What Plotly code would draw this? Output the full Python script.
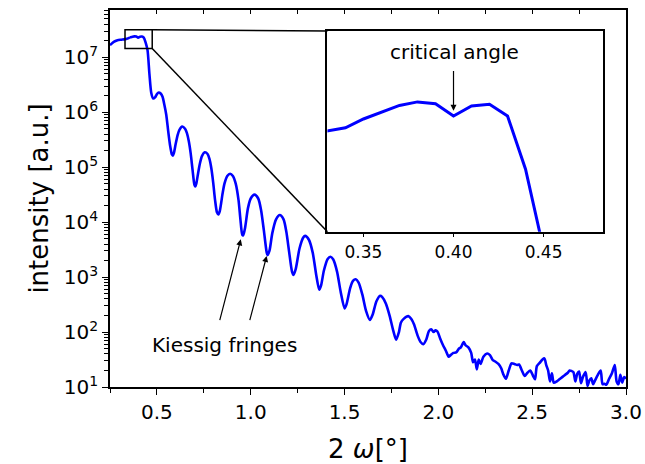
import numpy as np
import plotly.graph_objects as go

# 2-omega angle [deg]
angle = [
    0.25, 0.27, 0.29, 0.31, 0.33, 0.34, 0.35, 0.36, 0.37, 0.38, 0.39, 0.40, 0.41, 0.42, 0.43, 0.44, 0.45,
    0.46, 0.47, 0.48, 0.49, 0.50, 0.51, 0.52, 0.53, 0.54, 0.55, 0.56, 0.57, 0.58, 0.585, 0.59, 0.60,
    0.61, 0.62, 0.635, 0.65, 0.66, 0.67, 0.68, 0.69, 0.70, 0.705, 0.71, 0.72, 0.73, 0.74, 0.755, 0.77,
    0.78, 0.79, 0.80, 0.81, 0.82, 0.828, 0.835, 0.85, 0.86, 0.875, 0.89, 0.905, 0.92, 0.935, 0.945,
    0.955, 0.96, 0.97, 0.985, 1.00, 1.02, 1.04, 1.055, 1.07, 1.085, 1.09, 1.10, 1.115, 1.135, 1.155,
    1.175, 1.19, 1.205, 1.22, 1.228, 1.24, 1.26, 1.28, 1.29, 1.31, 1.33, 1.35, 1.365, 1.375, 1.39,
    1.41, 1.425, 1.44, 1.46, 1.48, 1.50, 1.51, 1.53, 1.545, 1.56, 1.575, 1.595, 1.615, 1.635, 1.65,
    1.67, 1.69, 1.70, 1.72, 1.74, 1.76, 1.775, 1.79, 1.80, 1.815, 1.84, 1.855, 1.87, 1.89, 1.905,
    1.92, 1.935, 1.95, 1.962, 1.975, 1.985, 1.995, 2.01, 2.025, 2.04, 2.055, 2.065, 2.08, 2.095,
    2.11, 2.12, 2.135, 2.145, 2.16, 2.175, 2.185, 2.195, 2.205, 2.215, 2.225, 2.24, 2.26, 2.275,
    2.29, 2.305, 2.32, 2.335, 2.345, 2.36, 2.375, 2.39, 2.405, 2.42, 2.43, 2.445, 2.46, 2.475,
    2.49, 2.505, 2.515, 2.525, 2.54, 2.555, 2.565, 2.575, 2.585, 2.595, 2.605, 2.615, 2.63, 2.645,
    2.66, 2.675, 2.69, 2.70, 2.71, 2.72, 2.73, 2.74, 2.75, 2.76, 2.77, 2.785, 2.795, 2.805, 2.815,
    2.825, 2.835, 2.85, 2.865, 2.875, 2.885, 2.895, 2.91, 2.925, 2.94, 2.95, 2.96, 2.97, 2.98,
    2.99, 3.00,
]

# log10 of intensity [a.u.]
log10_intensity = [
    7.22, 7.28, 7.31, 7.32, 7.33, 7.336, 7.351, 7.363, 7.374, 7.380, 7.377, 7.356, 7.373, 7.376, 7.356, 7.266, 7.13,
    6.70, 6.35, 6.25, 6.27, 6.33, 6.36, 6.34, 6.28, 6.13, 5.95, 5.66, 5.40, 5.23, 5.21, 5.25, 5.42,
    5.58, 5.68, 5.74, 5.70, 5.62, 5.47, 5.25, 4.95, 4.68, 4.65, 4.70, 4.90, 5.08, 5.20, 5.27, 5.24,
    5.15, 4.98, 4.72, 4.40, 4.18, 4.14, 4.20, 4.52, 4.70, 4.84, 4.88, 4.84, 4.70, 4.40, 4.05,
    3.77, 3.76, 3.90, 4.25, 4.43, 4.50, 4.43, 4.22, 3.85, 3.45, 3.40, 3.48, 3.80, 4.05, 4.13,
    4.05, 3.82, 3.45, 3.10, 3.04, 3.15, 3.52, 3.72, 3.75, 3.68, 3.45, 3.02, 2.77, 2.85, 3.12,
    3.33, 3.37, 3.32, 3.10, 2.72, 2.43, 2.50, 2.80, 2.93, 2.96, 2.90, 2.68, 2.38, 2.22, 2.32,
    2.56, 2.66, 2.64, 2.52, 2.30, 2.02, 1.86, 2.00, 2.17, 2.24, 2.29, 2.24, 2.14, 1.93, 1.82,
    1.78, 1.86, 2.02, 2.05, 2.00, 2.03, 2.01, 1.88, 1.76, 1.66, 1.55, 1.58, 1.62, 1.63,
    1.70, 1.72, 1.82, 1.76, 1.72, 1.62, 1.45, 1.50, 1.32, 1.50, 1.42, 1.55, 1.61, 1.58,
    1.49, 1.46, 1.42, 1.34, 1.24, 1.15, 1.30, 1.43, 1.42, 1.40, 1.41, 1.30, 1.20, 1.26,
    1.30, 1.20, 1.14, 1.38, 1.44, 1.50, 1.52, 1.40, 1.30, 1.10, 1.25, 1.08, 1.10, 1.14,
    1.18, 1.22, 1.26, 1.30, 1.29, 1.27, 1.10, 1.24, 1.28, 1.07, 1.18, 1.27, 1.02, 1.12, 1.16,
    1.05, 1.12, 1.22, 1.30, 1.05, 1.06, 1.04, 1.15, 1.25, 1.40, 1.10, 1.05, 1.22, 1.08,
    1.18, 1.15,
]

intensity = 10 ** np.array(log10_intensity)

main_xticks = [0.5, 1.0, 1.5, 2.0, 2.5, 3.0]
main_xticktext = ["0.5", "1.0", "1.5", "2.0", "2.5", "3.0"]
main_yexp = [1, 2, 3, 4, 5, 6, 7]
inset_xticks = [0.35, 0.40, 0.45]
inset_xticktext = ["0.35", "0.40", "0.45"]

X_RANGE = [0.25, 3.0]
Y_RANGE = [1, 7.86]
INSET_X = [0.33, 0.483]
INSET_Y = [7.16, 7.50]
INSET_DOM_X = [0.4214, 0.9554]
INSET_DOM_Y = [0.412, 0.944]

FONT = "DejaVu Sans"
BLUE = "#0000ff"

fig = go.Figure()
fig.add_trace(go.Scatter(
    x=angle, y=intensity, mode="lines",
    line=dict(color=BLUE, width=2.6, shape="spline", smoothing=0.7),
    xaxis="x", yaxis="y", showlegend=False, hoverinfo="skip",
))
fig.add_trace(go.Scatter(
    x=angle, y=intensity, mode="lines",
    line=dict(color=BLUE, width=3),
    xaxis="x2", yaxis="y2", showlegend=False, hoverinfo="skip",
))

axis_common = dict(showline=True, linecolor="black", linewidth=1.6, showgrid=False,
                   zeroline=False, tickcolor="black", automargin=False)

fig.update_layout(
    width=645, height=464,
    margin=dict(l=110, r=19, t=10, b=77, autoexpand=False),
    plot_bgcolor="white", paper_bgcolor="white",
    font=dict(family=FONT, color="black"),
    xaxis=dict(
        **axis_common, range=X_RANGE, mirror=True,
        tickmode="array", tickvals=main_xticks, ticktext=main_xticktext,
        ticks="outside", ticklen=6, tickwidth=1.3,
        minor=dict(ticks="outside", dtick=0.25, tick0=0, ticklen=4, tickwidth=1.3, tickcolor="black"),
        tickfont=dict(size=20, family=FONT),
        title=dict(text="2 <i>ω</i>[°]", font=dict(size=26, family=FONT), standoff=17),
    ),
    xaxis3=dict(
        overlaying="x", side="top", range=X_RANGE, automargin=False,
        showline=False, showgrid=False, zeroline=False, showticklabels=False,
        tickmode="linear", tick0=0, dtick=0.25, ticks="inside", ticklen=4, tickwidth=1.3,
        tickcolor="black", anchor="y",
    ),
    yaxis=dict(
        **axis_common, type="log", range=Y_RANGE, mirror=True,
        tickmode="array", tickvals=[10 ** e for e in main_yexp],
        ticktext=[f"10<sup>{e}</sup>" for e in main_yexp],
        ticks="outside", ticklen=6, tickwidth=1.3,
        minor=dict(ticks="outside", dtick="D1", ticklen=4, tickwidth=1.1, tickcolor="black"),
        tickfont=dict(size=20, family=FONT),
        title=dict(text="intensity [a.u.]", font=dict(size=26, family=FONT), standoff=8),
    ),
    xaxis2=dict(
        **axis_common, domain=INSET_DOM_X, anchor="y2", range=INSET_X, mirror=True,
        tickmode="array", tickvals=inset_xticks, ticktext=inset_xticktext,
        ticks="outside", ticklen=4, tickwidth=1.2,
        tickfont=dict(size=17, family=FONT),
    ),
    yaxis2=dict(
        **axis_common, domain=INSET_DOM_Y, anchor="x2", type="log", range=INSET_Y, mirror=True,
        showticklabels=False, ticks="",
    ),
)
# dummy trace for top tick axis
fig.add_trace(go.Scatter(x=[X_RANGE[0]], y=[None], xaxis="x3", yaxis="y",
                         showlegend=False, hoverinfo="skip"))

# zoom rectangle and connector lines (in main data coordinates)
ins_left_x = X_RANGE[0] + INSET_DOM_X[0] * (X_RANGE[1] - X_RANGE[0])
ins_top_y = 10 ** (Y_RANGE[0] + INSET_DOM_Y[1] * (Y_RANGE[1] - Y_RANGE[0]))
ins_bot_y = 10 ** (Y_RANGE[0] + INSET_DOM_Y[0] * (Y_RANGE[1] - Y_RANGE[0]))
rect_y0, rect_y1 = 10 ** INSET_Y[0], 10 ** INSET_Y[1]
line_style = dict(color="black", width=1.5)
fig.add_shape(type="rect", xref="x", yref="y", x0=INSET_X[0], x1=0.475,
              y0=rect_y0, y1=rect_y1, line=line_style)
fig.add_shape(type="line", xref="x", yref="y", x0=0.475, y0=rect_y1,
              x1=ins_left_x, y1=ins_top_y, line=line_style)
fig.add_shape(type="line", xref="x", yref="y", x0=0.475, y0=rect_y0,
              x1=ins_left_x, y1=ins_bot_y, line=line_style)

# annotations
fig.add_annotation(x=0.4006, y=7.465, xref="x2", yref="y2", text="critical angle",
                   showarrow=False, font=dict(size=20, family=FONT))
fig.add_annotation(x=0.40, y=7.365, xref="x2", yref="y2", ax=0.40, ay=7.435,
                   axref="x2", ayref="y2", text="", showarrow=True,
                   arrowhead=2, arrowsize=1, arrowwidth=1.2, arrowcolor="black")
fig.add_annotation(x=0.859, y=1.764, xref="x", yref="y", text="Kiessig fringes",
                   showarrow=False, font=dict(size=20, family=FONT))
fig.add_annotation(x=0.947, y=3.687, xref="x", yref="y", ax=0.833, ay=2.188,
                   axref="x", ayref="y", text="", showarrow=True,
                   arrowhead=2, arrowsize=1, arrowwidth=1.2, arrowcolor="black")
fig.add_annotation(x=1.085, y=3.384, xref="x", yref="y", ax=0.993, ay=2.188,
                   axref="x", ayref="y", text="", showarrow=True,
                   arrowhead=2, arrowsize=1, arrowwidth=1.2, arrowcolor="black")

fig.write_html("out.html")
